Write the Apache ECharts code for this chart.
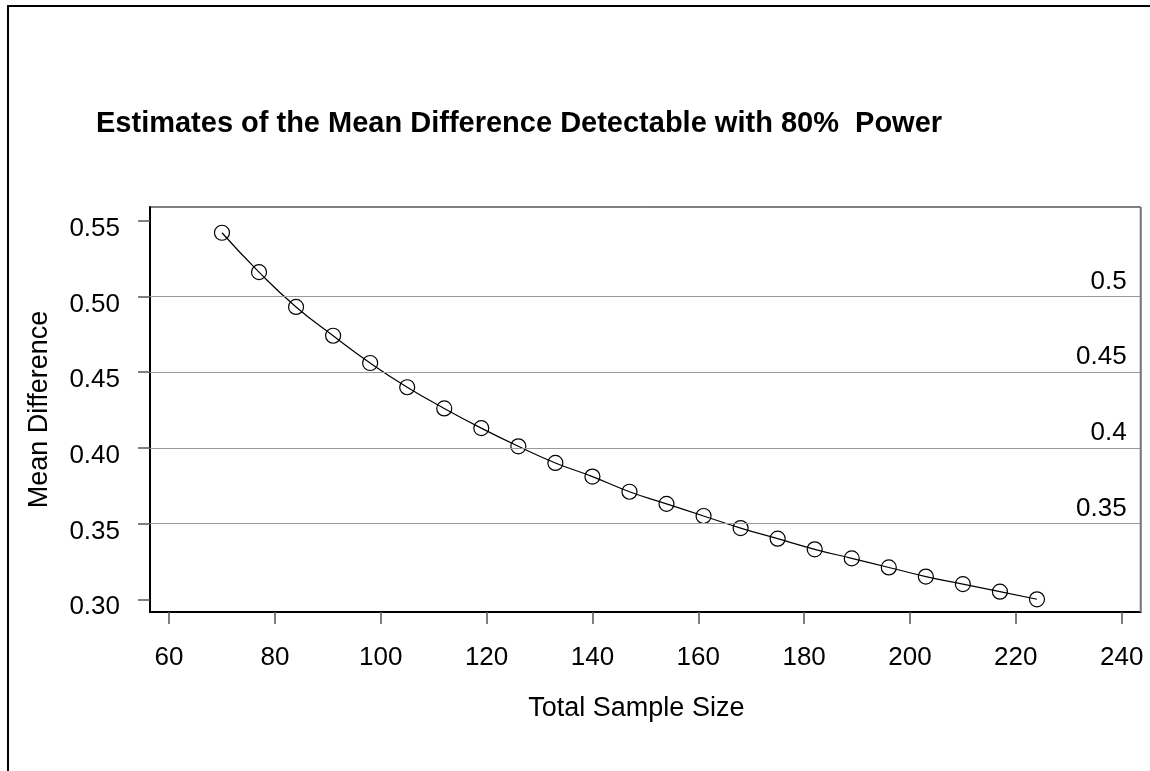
<!DOCTYPE html>
<html>
<head>
<meta charset="utf-8">
<script src="https://cdn.jsdelivr.net/npm/echarts@6/dist/echarts.min.js"></script>
<style>
html,body{margin:0;padding:0;background:#fff;}
#chart{width:1150px;height:771px;}
</style>
</head>
<body>
<div id="chart"></div>
<script>
// Data
var sampleSizes = [70,77,84,91,98,105,112,119,126,133,140,147,154,161,168,175,182,189,196,203,210,217,224];
var meanDiff = [0.542,0.516,0.493,0.474,0.456,0.440,0.426,0.413,0.401,0.390,0.381,0.371,0.363,0.355,0.347,0.340,0.333,0.327,0.321,0.315,0.310,0.305,0.300];
var yTicks = [0.30,0.35,0.40,0.45,0.50,0.55];
var xTicks = [60,80,100,120,140,160,180,200,220,240];
var refValues = [0.5,0.45,0.4,0.35];
var refLabels = ['0.5','0.45','0.4','0.35'];
var titleText = 'Estimates of the Mean Difference Detectable with 80%  Power';
var xName = 'Total Sample Size';
var yName = 'Mean Difference';

var FONT = '"Liberation Sans", Arial, sans-serif';
var points = sampleSizes.map(function(x,i){return [x, meanDiff[i]];});
var refLines = refValues.map(function(v,i){
  return {yAxis: v, label: {formatter: refLabels[i]}};
});

var chart = echarts.init(document.getElementById('chart'), null, {renderer:'canvas'});
chart.setOption({
  backgroundColor: '#fff',
  animation: false,
  title: {
    text: titleText,
    left: 91,
    top: 104,
    textStyle: {fontFamily: FONT, fontSize: 29, fontWeight: 'bold', color: '#000'}
  },
  graphic: [{
    type: 'rect',
    shape: {x: 8, y: 6, width: 1400, height: 1000},
    style: {fill: 'none', stroke: '#000', lineWidth: 2},
    silent: true
  }, {
    type: 'line',
    shape: {x1: 1140.7, y1: 207, x2: 1140.7, y2: 612},
    style: {stroke: '#777', lineWidth: 2},
    silent: true, z: 10
  }],
  grid: {
    left: 150, top: 207, right: 9.3, bottom: 159,
    show: true, borderColor: '#000', borderWidth: 1, backgroundColor: 'transparent'
  },
  xAxis: {
    type: 'value',
    min: 56.4, max: 243.6,
    name: xName,
    nameLocation: 'middle',
    nameGap: 83,
    nameTextStyle: {fontFamily: FONT, fontSize: 27, color: '#000', padding: [0, 18, 0, 0]},
    axisLine: {show: true, lineStyle: {color: '#000', width: 2}},
    axisTick: {show: true, customValues: xTicks, length: 12, lineStyle: {color: '#555', width: 1.5}},
    axisLabel: {customValues: xTicks, fontFamily: FONT, fontSize: 26, color: '#000', margin: 33},
    splitLine: {show: false}
  },
  yAxis: {
    type: 'value',
    min: 0.2916, max: 0.559,
    name: yName,
    nameLocation: 'middle',
    nameGap: 97,
    nameRotate: 90,
    nameTextStyle: {fontFamily: FONT, fontSize: 27, color: '#000'},
    axisLine: {show: true, lineStyle: {color: '#000', width: 2}},
    axisTick: {show: true, customValues: yTicks, length: 12, lineStyle: {color: '#555', width: 1.5}},
    axisLabel: {
      customValues: yTicks, fontFamily: FONT, fontSize: 26, color: '#000', margin: 30,
      formatter: function(v){ return '{v|' + v.toFixed(2) + '}'; },
      rich: {v: {fontFamily: FONT, fontSize: 26, color: '#000', padding: [16, 0, 0, 0]}}
    },
    splitLine: {show: false}
  },
  series: [{
    type: 'line',
    data: points,
    smooth: true,
    symbol: 'circle',
    symbolSize: 15,
    itemStyle: {color: 'rgba(0,0,0,0)', borderColor: '#000', borderWidth: 1.2},
    lineStyle: {color: '#000', width: 1.2},
    emphasis: {disabled: true},
    markLine: {
      silent: true,
      symbol: ['none','none'],
      lineStyle: {color: '#999', type: 'solid', width: 1.2},
      label: {
        show: true, position: 'insideEndTop',
        fontFamily: FONT, fontSize: 26, color: '#000',
        distance: [14, 2]
      },
      emphasis: {disabled: true},
      data: refLines
    }
  }]
});
</script>
</body>
</html>
